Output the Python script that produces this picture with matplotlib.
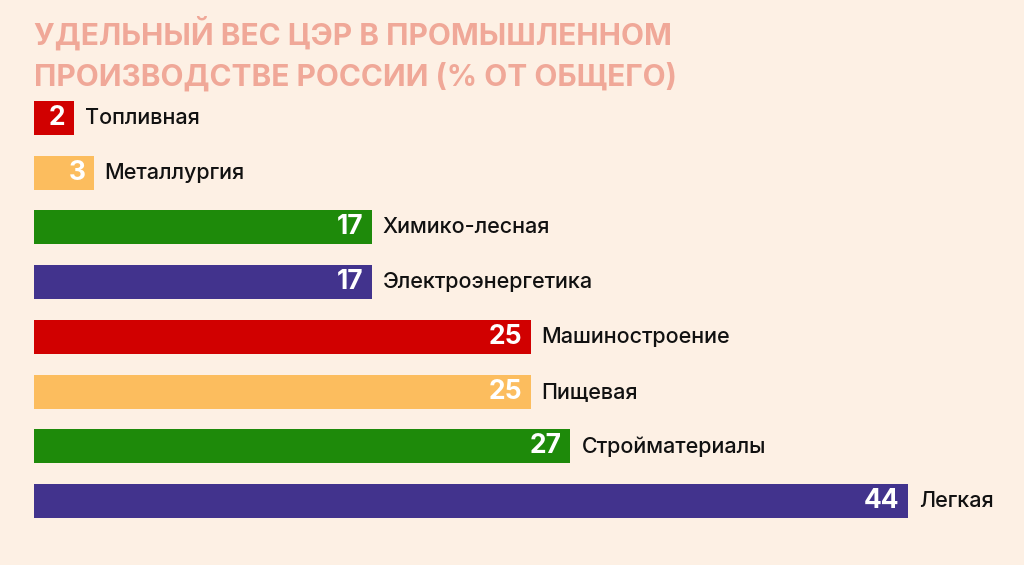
import matplotlib

matplotlib.use("Agg")
import matplotlib.pyplot as plt  # noqa: E402

categories = [
    "Топливная",
    "Металлургия",
    "Химико-лесная",
    "Электроэнергетика",
    "Машиностроение",
    "Пищевая",
    "Стройматериалы",
    "Легкая",
]
values = [2, 3, 17, 17, 25, 25, 27, 44]
colors = ["#D10000", "#FCBD5E", "#1E8A0A", "#42338D"] * 2

BG = "#FDF0E4"
TITLE_COLOR = "#F0A898"

fig = plt.figure(figsize=(10.24, 5.65), dpi=100, facecolor=BG)
# axes in pixel coordinates: x 34..1024, y 90..530 (from top)
ax = fig.add_axes([34 / 1024, 1 - 530 / 565, 990 / 1024, 440 / 565])
ax.set_facecolor(BG)

pos = list(range(len(values)))
ax.barh(pos, values, height=0.62, color=colors)
ax.set_xlim(0, 44 * 990 / 874)
ax.set_ylim(7.53, -0.512)
ax.axis("off")

for i, v in enumerate(values):
    ax.annotate(str(v), (v, i), xytext=(-6, 0), textcoords="offset points",
                ha="right", va="center", color="white", fontsize=19,
                fontweight="bold", family="Inter")
    ax.annotate(categories[i], (v, i), xytext=(8, 0), textcoords="offset points",
                ha="left", va="center", color="#111111", fontsize=15.5,
                fontweight="medium", family="Inter")

fig.text(34 / 1024, 1 - 16 / 565,
         "УДЕЛЬНЫЙ ВЕС ЦЭР В ПРОМЫШЛЕННОМ\nПРОИЗВОДСТВЕ РОССИИ (% ОТ ОБЩЕГО)",
         ha="left", va="top", color=TITLE_COLOR, fontsize=21.5, fontweight="bold",
         family="Inter", linespacing=1.5)

fig.savefig("out.png", dpi=100, facecolor=BG)
